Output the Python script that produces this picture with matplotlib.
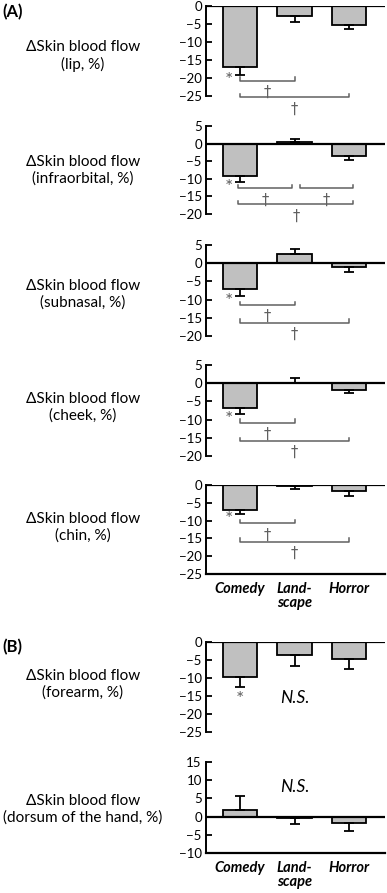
import numpy as np
import matplotlib
matplotlib.use("Agg")
import matplotlib.pyplot as plt

plt.rcParams['font.family'] = ['Lato', 'DejaVu Sans']

categories = ['Comedy', 'Land-\nscape', 'Horror']

sites = ['lip', 'infraorbital', 'subnasal', 'cheek', 'chin',
         'forearm', 'dorsum of the hand']

lip_mean = [-17.0, -2.8, -5.2]
lip_err = [2.2, 1.6, 1.2]
infra_mean = [-9.2, 0.4, -3.5]
infra_err = [1.7, 0.8, 1.1]
subnasal_mean = [-7.1, 2.4, -1.0]
subnasal_err = [1.9, 1.4, 1.3]
cheek_mean = [-6.8, 0.1, -1.8]
cheek_err = [1.7, 1.3, 0.8]
chin_mean = [-6.9, -0.2, -1.6]
chin_err = [1.3, 0.8, 1.4]
forearm_mean = [-9.6, -3.5, -4.6]
forearm_err = [2.8, 3.2, 2.8]
dorsum_mean = [1.8, -0.4, -1.8]
dorsum_err = [3.8, 1.7, 2.2]

means = [lip_mean, infra_mean, subnasal_mean, cheek_mean, chin_mean,
         forearm_mean, dorsum_mean]
errs = [lip_err, infra_err, subnasal_err, cheek_err, chin_err,
        forearm_err, dorsum_err]
ylims = [(-25, 0), (-20, 5), (-20, 5), (-20, 5), (-25, 0), (-25, 0), (-10, 15)]

# significance brackets (start, end, y) per panel
brackets = [
    [(0, 1, -20.7), (0, 2, -25.4)],
    [(-0.03, 0.95, -12.6), (1.1, 2.08, -12.6), (-0.03, 2.08, -17.3)],
    [(0, 1, -11.4), (0, 2, -16.3)],
    [(0, 1, -10.8), (0, 2, -15.8)],
    [(0, 1, -10.8), (0, 2, -15.9)],
    [],
    [],
]
ns_y = [None, None, None, None, None, -15.6, 8.2]

W, H = 387, 893
# axes top / bottom in pixels
ax_px = [(6, 96), (126, 214), (245, 336), (365, 456), (485, 574),
         (642, 732), (762, 853)]
label_px = [56, 170, 294, 407, 527, 684, 809]
x_left, x_right = 206, 385

fig = plt.figure(figsize=(W / 100, H / 100), dpi=100)

grey = '#606060'
x = np.arange(3)

for k in range(7):
    top, bot = ax_px[k]
    ax = fig.add_axes([x_left / W, 1 - bot / H, (x_right - x_left) / W, (bot - top) / H])
    m = np.array(means[k])
    e = np.array(errs[k])
    ax.bar(x, m, width=0.64, color='#c0c0c0', edgecolor='black', linewidth=1.3, zorder=2)
    lower = np.where(m < 0, e, 0)
    upper = np.where(m >= 0, e, 0)
    ax.errorbar(x, m, yerr=[lower, upper], fmt='none', ecolor='black',
                elinewidth=1.3, capsize=3.5, capthick=1.3, zorder=3)
    ax.axhline(0, color='black', lw=1.6, zorder=4)
    ax.set_xlim(-0.624, 2.66)
    ax.set_ylim(*ylims[k])
    ax.set_yticks(np.arange(ylims[k][0], ylims[k][1] + 1, 5))
    ax.tick_params(axis='y', direction='in', length=4, width=1.3, labelsize=9.5, pad=3)
    ax.spines['left'].set_linewidth(1.4)
    ax.spines['top'].set_visible(False)
    ax.spines['right'].set_visible(False)
    if k in (4, 6):
        ax.spines['bottom'].set_linewidth(1.6)
        ax.set_xticks(x)
        ax.set_xticklabels(categories, fontsize=10.5, fontweight='bold', style='italic',
                           linespacing=1.0, va='top')
        ax.tick_params(axis='x', length=0, pad=6)
    else:
        ax.spines['bottom'].set_visible(False)
        ax.set_xticks([])
    ax.set_facecolor('none')

    # significance vs. baseline on comedy
    if k < 5:
        end = m[0] - e[0]
        ax.text(-0.2, end - 1.6, '*', color=grey, fontsize=14, ha='center', va='center')
    elif k == 5:
        end = m[0] - e[0]
        ax.text(0, end - 3.6, '*', color=grey, fontsize=14, ha='center', va='center')

    yr = ylims[k][1] - ylims[k][0]
    for (a, b, yb) in brackets[k]:
        tick = 0.035 * yr
        ax.plot([a, a, b, b], [yb + tick, yb, yb, yb + tick], color=grey, lw=1.1,
                clip_on=False)
        ax.text((a + b) / 2, yb - 0.05 * yr, '\u2020', color=grey, fontsize=10.5,
                family='DejaVu Sans', ha='center', va='top', clip_on=False)

    if ns_y[k] is not None:
        ax.text(1, ns_y[k], 'N.S.', fontsize=12.5, style='italic', ha='center', va='center')

    fig.text(83 / W, 1 - label_px[k] / H,
             '\u0394Skin blood flow\n(' + sites[k] + ', %)',
             fontsize=11, ha='center', va='center', linespacing=1.2)

fig.text(2 / W, 1 - 12 / H, '(A)', fontsize=12, fontweight='bold', ha='left', va='center')
fig.text(2 / W, 1 - 647 / H, '(B)', fontsize=12, fontweight='bold', ha='left', va='center')

fig.savefig('out.png', dpi=100)
